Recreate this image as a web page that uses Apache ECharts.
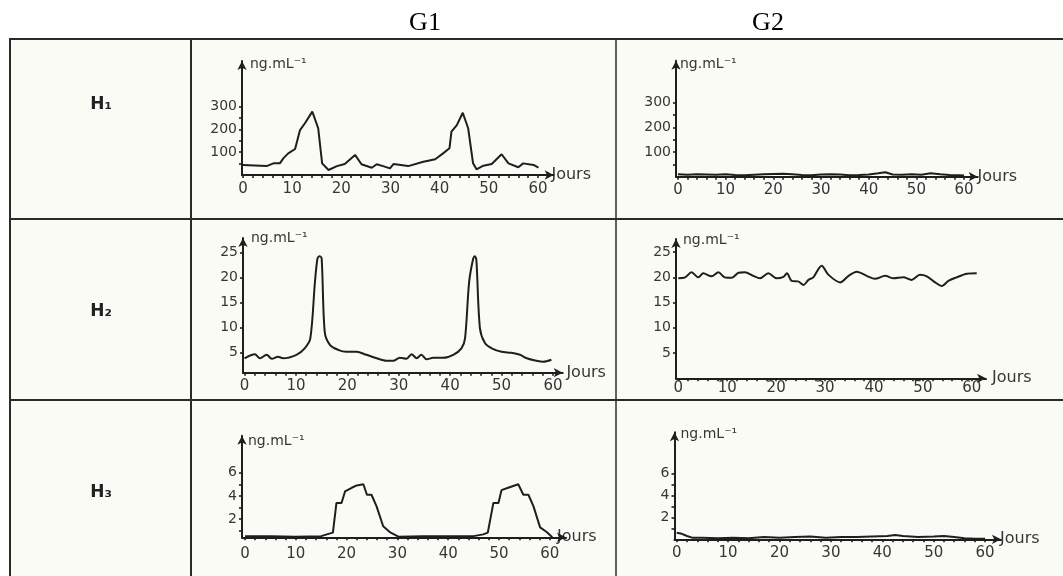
<!DOCTYPE html>
<html><head><meta charset="utf-8">
<script src="https://cdn.jsdelivr.net/npm/echarts@6/dist/echarts.min.js"></script>
<style>html,body{margin:0;padding:0;background:#fff}#c{width:1063px;height:576px}</style>
</head><body><div id="c"></div>
<script>
// ---- text ----
const colHeaders = ['G1', 'G2'];
const rowHeaders = ['H₁', 'H₂', 'H₃'];
const yUnit = 'ng.mL⁻¹';
const xUnit = 'Jours';

// ---- axis ticks / labels ----
const xLabelValues = [0, 10, 20, 30, 40, 50, 60];
const xTickValues = [0,2,4,6,8,10,12,14,16,18,20,22,24,26,28,30,32,34,36,38,40,42,44,46,48,50,52,54,56,58,60];
const yLabelsH1 = [100, 200, 300];
const yTicksH1 = [50, 100, 150, 200, 250, 300];
const yLabelsH2 = [5, 10, 15, 20, 25];
const yTicksH2 = [5, 10, 15, 20, 25];
const yLabelsH3 = [2, 4, 6];
const yTicksH3 = [1, 2, 3, 4, 5, 6];

// ---- H1, G1 ----
const h1g1Days = [0,4.8,6.2,7.5,8.2,9.2,10.6,11.6,12.6,14.1,15.3,16.1,17.4,19.1,20.7,22.8,24.1,26.2,27.2,28.5,29.9,30.6,33.6,36.7,39.1,40.7,42.0,42.4,43.5,44.7,45.8,46.8,47.5,48.9,50.6,52.6,54.0,56.0,57.0,59.1,60.1];
const h1g1Vals = [44,39,51,51,73,95,114,197,227,278,205,51,22,39,48,88,47,32,47,39,29,48,39,58,69,95,117,190,219,273,205,51,25,41,48,91,51,34,51,44,32];
// ---- H1, G2 ----
const h1g2Days = [0,2,4,6,8,10,12,14,16,18,20,22,24,26,28,30,32,34,36,38,40,42,43.5,45,47,49,51,53,55,57,59,60];
const h1g2Vals = [10,8,10,9,8,10,7,6,8,10,11,12,10,7,6,9,10,9,6,7,9,14,18,9,8,10,8,14,10,7,6,5];
// ---- H2, G1 ----
const h2g1Days = [0,2.0,3.0,4.3,5.3,6.5,7.5,10.1,11.7,12.8,13.7,14.2,14.6,15.0,15.6,16.6,18.2,19.8,21.8,23.7,25.7,27.6,28.9,30.2,31.5,32.5,33.5,34.4,35.4,36.7,38.7,40.6,42.2,42.9,43.7,44.5,44.8,45.1,45.8,46.8,48.1,50.0,51.9,53.6,54.9,56.8,58.1,59.7];
const h2g1Vals = [3.8,4.6,3.8,4.5,3.7,4.1,3.8,4.5,5.8,7.8,19.1,23.8,24.2,23.8,9.1,6.5,5.5,5.1,5.1,4.5,3.8,3.3,3.3,3.9,3.7,4.6,3.8,4.5,3.6,3.9,3.9,4.5,5.8,7.8,19.1,23.8,24.2,23.5,9.8,6.8,5.8,5.1,4.9,4.5,3.8,3.3,3.1,3.5];
// ---- H2, G2 ----
const h2g2Days = [0,1.4,2.7,4.1,5.1,6.8,8.2,9.5,10.9,12.3,13.6,15.3,16.7,18.4,20.1,21.5,22.2,23.2,24.5,25.6,26.6,27.6,29.3,30.7,33.1,34.8,36.5,38.5,40.2,42.3,44.0,46.0,47.7,49.4,50.8,52.5,53.9,55.2,56.9,59.0,61.0];
const h2g2Vals = [19.8,20,21,20,20.8,20.2,21,20,19.9,20.9,21,20.3,19.8,20.8,19.8,20.1,20.8,19.3,19.2,18.5,19.5,20,22.3,20.5,19,20.3,21.1,20.3,19.7,20.3,19.8,20,19.5,20.5,20.2,19,18.3,19.3,20,20.7,20.8];
// ---- H3, G1 ----
const h3g1Days = [0,5,10,15,16.1,17.3,18.0,19.0,19.7,21.0,22.0,23.3,24.0,24.9,25.9,27.2,28.5,30.2,35,40,45,46.9,47.8,48.9,49.9,50.5,51.8,53.8,54.8,55.8,56.8,58.1,59.4,60.5];
const h3g1Vals = [0.55,0.55,0.5,0.55,0.7,0.85,3.4,3.4,4.4,4.7,4.9,5.0,4.1,4.1,3.1,1.4,0.9,0.5,0.55,0.55,0.55,0.7,0.85,3.4,3.4,4.5,4.7,5.0,4.1,4.1,3.1,1.3,0.9,0.45];
// ---- H3, G2 ----
const h3g2Days = [0,1,2,3,5,8,11,14,17,20,23,26,29,32,35,38,41,42.5,44,47,50,52,54,56,58,60];
const h3g2Vals = [0.6,0.5,0.3,0.15,0.15,0.1,0.15,0.1,0.2,0.15,0.2,0.25,0.15,0.2,0.2,0.25,0.3,0.4,0.3,0.2,0.25,0.3,0.2,0.1,0.05,0.05];

const INK = '#1e1e1e';
const TXT = '#363636';
const FONT = 'DejaVu Sans';

const panels = [
  {days:h1g1Days, vals:h1g1Vals, left:242, top:61, width:311.7, height:114, xmin:-0.2, xmax:63.2, ymin:0, ymax:500, yl:yLabelsH1, yt:yTicksH1, smooth:false, xg:-4, jo:15, lm:7, yg:-3, yp:8},
  {days:h1g2Days, vals:h1g2Vals, left:676, top:60.7, width:301.7, height:116, xmin:-0.4, xmax:62.85, ymin:0, ymax:470, yl:yLabelsH1, yt:yTicksH1, smooth:false, xg:-1, jo:14, lm:6, yg:-4, yp:4},
  {days:h2g1Days, vals:h2g1Vals, left:243, top:238, width:319.7, height:134.7, xmin:-0.3, xmax:61.9, ymin:0.92, ymax:27.86, yl:yLabelsH2, yt:yTicksH2, smooth:0.3, xg:0, jo:14, lm:6, yg:0, yp:8},
  {days:h2g2Days, vals:h2g2Vals, left:676, top:239, width:310, height:139.3, xmin:-0.47, xmax:62.9, ymin:0, ymax:27.6, yl:yLabelsH2, yt:yTicksH2, smooth:0.3, xg:6, jo:9, lm:2, yg:-1, yp:7},
  {days:h3g1Days, vals:h3g1Vals, left:242, top:435.7, width:324, height:101.6, xmin:-0.6, xmax:63.2, ymin:0.45, ymax:9.17, yl:yLabelsH3, yt:yTicksH3, smooth:false, xg:-9, jo:17, lm:9, yg:-6, yp:6},
  {days:h3g2Days, vals:h3g2Vals, left:674.5, top:432.3, width:326.5, height:107, xmin:-0.43, xmax:63.1, ymin:0, ymax:9.73, yl:yLabelsH3, yt:yTicksH3, smooth:false, xg:-1, jo:14, lm:6, yg:-2, yp:6}
];

const grids = [], xAxes = [], yAxes = [], series = [];
panels.forEach((p, i) => {
  grids.push({left:p.left, top:p.top, width:p.width, height:p.height, containLabel:false, outerBoundsMode:'none'});
  xAxes.push({
    type:'value', gridIndex:i, min:p.xmin, max:p.xmax,
    name:xUnit, nameLocation:'end', nameGap:p.xg,
    nameTextStyle:{color:TXT, fontFamily:FONT, fontSize:16, align:'left', verticalAlign:'middle', padding:[2*p.jo,0,0,0]},
    axisLine:{onZero:false, lineStyle:{color:INK, width:2}, symbol:['none','arrow'], symbolSize:[7,9]},
    axisTick:{show:true, length:3, customValues:xTickValues, lineStyle:{color:INK, width:1.6}},
    axisLabel:{customValues:xLabelValues, margin:p.lm, color:TXT, fontFamily:FONT, fontSize:15},
    splitLine:{show:false}
  });
  yAxes.push({
    type:'value', gridIndex:i, min:p.ymin, max:p.ymax,
    name:yUnit, nameLocation:'end', nameGap:p.yg,
    nameTextStyle:{color:TXT, fontFamily:FONT, fontSize:14, align:'left', verticalAlign:'middle', padding:[0,0,0,p.yp]},
    axisLine:{show:true, onZero:false, lineStyle:{color:INK, width:2}, symbol:['none','arrow'], symbolSize:[7,9]},
    axisTick:{show:true, length:3, customValues:p.yt, lineStyle:{color:INK, width:1.6}},
    axisLabel:{customValues:p.yl, margin:5, color:TXT, fontFamily:FONT, fontSize:14},
    splitLine:{show:false}
  });
  series.push({
    type:'line', xAxisIndex:i, yAxisIndex:i, symbol:'none', smooth:p.smooth,
    lineStyle:{color:INK, width:2}, animation:false,
    data:p.days.map((d, k) => [d, p.vals[k]])
  });
});

const lineStyle = {stroke:'#2a2a2a', lineWidth:2};
const graphics = [
  {type:'rect', z:-10, shape:{x:10, y:39, width:1053, height:537}, style:{fill:'#fbfbf6'}},
  {type:'line', z:50, shape:{x1:9, y1:39, x2:1063, y2:39}, style:lineStyle},
  {type:'line', z:50, shape:{x1:10, y1:39, x2:10, y2:576}, style:lineStyle},
  {type:'line', z:50, shape:{x1:191, y1:39, x2:191, y2:576}, style:lineStyle},
  {type:'line', z:50, shape:{x1:616, y1:39, x2:616, y2:576}, style:{stroke:'#3a3a3a', lineWidth:1.6}},
  {type:'line', z:50, shape:{x1:10, y1:219, x2:1063, y2:219}, style:lineStyle},
  {type:'line', z:50, shape:{x1:10, y1:400, x2:1063, y2:400}, style:lineStyle},
  {type:'text', x:425, y:23, style:{text:colHeaders[0], font:'26px "Liberation Serif"', fill:'#000', align:'center', verticalAlign:'middle'}},
  {type:'text', x:768, y:23, style:{text:colHeaders[1], font:'26px "Liberation Serif"', fill:'#000', align:'center', verticalAlign:'middle'}},
  {type:'text', x:101, y:105, style:{text:rowHeaders[0], font:'bold 17px "DejaVu Sans"', fill:'#222', align:'center', verticalAlign:'middle'}},
  {type:'text', x:101, y:312, style:{text:rowHeaders[1], font:'bold 17px "DejaVu Sans"', fill:'#222', align:'center', verticalAlign:'middle'}},
  {type:'text', x:101, y:493, style:{text:rowHeaders[2], font:'bold 17px "DejaVu Sans"', fill:'#222', align:'center', verticalAlign:'middle'}}
];

const chart = echarts.init(document.getElementById('c'));
chart.setOption({
  animation:false,
  backgroundColor:'#ffffff',
  grid:grids, xAxis:xAxes, yAxis:yAxes, series:series,
  graphic:graphics
});
</script>
</body></html>
